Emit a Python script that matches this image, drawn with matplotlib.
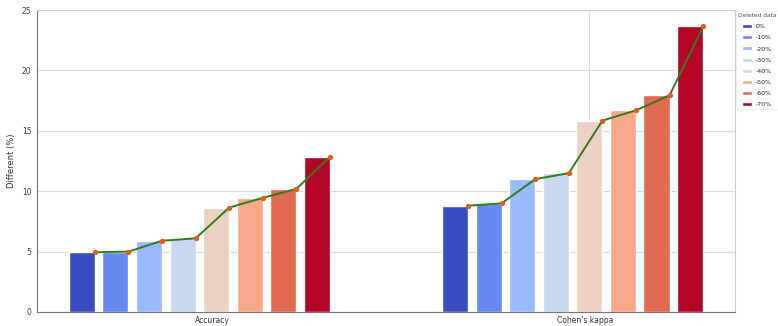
import numpy as np
import matplotlib
matplotlib.use('Agg')
import matplotlib.pyplot as plt
import seaborn as sns

# 類別與刪除比例
categories = ['Accuracy', "Cohen's kappa"]
deleted_labels = ['0%', '-10%', '-20%', '-30%', '-40%', '-50%', '-60%', '-70%']

# 每個刪除比例對應的差異值 (%)
accuracy_vals = [4.95, 5.0, 5.9, 6.1, 8.65, 9.45, 10.2, 12.85]
kappa_vals = [8.8, 9.0, 11.0, 11.5, 15.85, 16.7, 17.95, 23.65]

sns.set_style('whitegrid')
plt.rcParams['font.family'] = ['DejaVu Sans']

colors = plt.cm.coolwarm(np.linspace(0, 1, len(deleted_labels)))

fig = plt.figure(figsize=(7.78, 3.26), dpi=100)
ax = fig.add_axes([0.0476, 0.043, 0.897, 0.926])

x = np.arange(len(categories))
width = 0.07
step = 0.09
values = np.array([accuracy_vals, kappa_vals])  # shape (2, 8)

for i, lab in enumerate(deleted_labels):
    pos = x + (i - 3.5) * step - 0.035
    ax.bar(pos, values[:, i], width=width, color=colors[i], label=lab, zorder=2)

# 折線：每組的點放在長條右上角
for j in range(len(categories)):
    pts_x = x[j] + (np.arange(len(deleted_labels)) - 3.5) * step - 0.035 + width / 2
    ax.plot(pts_x, values[j], color='#2e7d1f', linewidth=1.4, zorder=3)
    ax.plot(pts_x, values[j], 'o', color='#e85a1a', markersize=2.8, zorder=4)

ax.set_xticks(x)
ax.set_xticklabels(categories, fontsize=5.5, color='#333333')
ax.set_ylim(0, 25)
ax.set_yticks([0, 5, 10, 15, 20, 25])
ax.tick_params(axis='y', labelsize=5.5, colors='#444444', length=2, pad=2)
ax.tick_params(axis='x', length=2, pad=1, color='#888888')
ax.set_xlim(-0.47, 1.40)
ax.set_ylabel('Different (%)', fontsize=6, color='#333333', labelpad=4)

ax.grid(False)
ax.grid(True, axis='y', color='#dddddd', linewidth=0.8, zorder=0)
ax.axvline(1.01, color='#dddddd', linewidth=0.8, zorder=0)
for s in ['left', 'bottom']:
    ax.spines[s].set_color('#777777')
for s in ['top', 'right']:
    ax.spines[s].set_color('#cccccc')

leg = ax.legend(title='Deleted data', loc='upper left', bbox_to_anchor=(1.0, 1.0),
                fontsize=4.5, title_fontsize=4.2, frameon=True,
                handlelength=1.6, handleheight=0.6, handletextpad=0.6,
                labelspacing=0.95, borderpad=0.3, borderaxespad=0.2)
leg.get_title().set_color('#555555')
leg.get_frame().set_edgecolor('#e5e5e5')
leg.get_frame().set_linewidth(0.5)

plt.savefig('out.png', dpi=100)
plt.close()
